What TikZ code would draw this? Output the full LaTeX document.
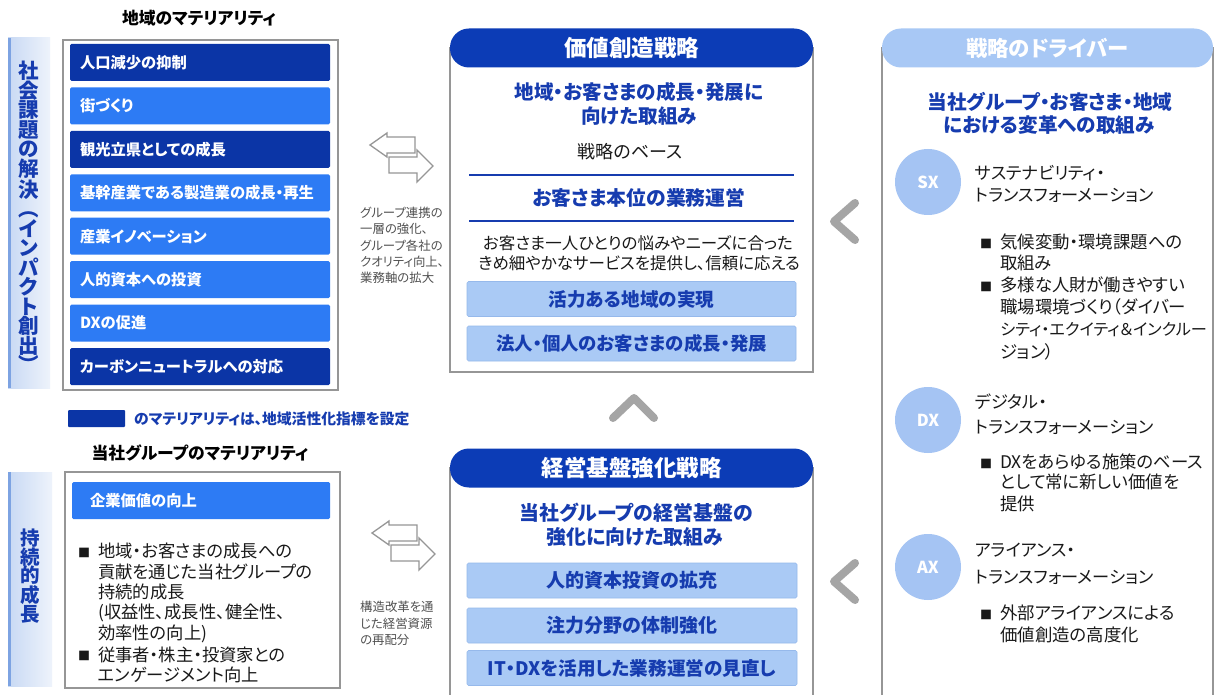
\documentclass[tikz,border=0pt]{standalone}
\usepackage{fontspec}
\setmainfont{Noto Sans CJK JP}[RawFeature=+palt]
\newfontfamily\jpv{Noto Sans CJK JP}
\definecolor{dkblue}{RGB}{11,53,166}
\definecolor{brblue}{RGB}{45,123,244}
\definecolor{txblue}{RGB}{22,60,175}
\definecolor{hdblue}{RGB}{12,60,182}
\definecolor{ltbar}{RGB}{170,202,245}
\definecolor{ltbarb}{RGB}{150,185,235}
\definecolor{circ}{RGB}{165,196,243}
\definecolor{drvhd}{RGB}{168,200,245}
\definecolor{framec}{RGB}{150,150,150}
\definecolor{chevc}{RGB}{165,165,165}
\definecolor{vbarL}{RGB}{200,217,244}
\definecolor{vbarR}{RGB}{238,243,251}
\definecolor{vbarline}{RGB}{125,163,226}
\definecolor{txt}{RGB}{25,25,25}
\definecolor{capc}{RGB}{80,80,80}
\newcommand\fsz[1]{\fontsize{#1}{#1}\selectfont}
\newcommand\mybul{\makebox[20pt][l]{\raisebox{0.5pt}{\fsz{12}■}}}
\newcommand\myind{\hspace*{20pt}}
\tikzset{
  every node/.style={text=txt, inner sep=0pt},
  title/.style={font=\bfseries\fsz{16.8}, text=black},
  framebox/.style={draw=framec, line width=1.2pt, fill=white},
  matdk/.style={fill=dkblue, text=white, font=\bfseries\fsz{15.3}, minimum height=37pt, text width=240pt, inner xsep=10pt, align=left, rounded corners=1.5pt},
  matbr/.style={matdk, fill=brblue},
  vbar/.style={left color=vbarL, right color=vbarR, minimum width=42pt},
  vtext/.style={font={\jpv\bfseries\fontsize{20.5}{19.5}\selectfont}, align=center, text=txblue},
  pill/.style={fill=hdblue, text=white, font=\bfseries\fsz{22.5}, minimum width=363pt, minimum height=39pt, rounded corners=19pt},
  bluehead/.style={font=\bfseries\fsz{19.6}, text=txblue},
  ltbox/.style={fill=ltbar, draw=ltbarb, line width=0.6pt, text=txblue, font=\bfseries\fsz{18.4}, minimum width=329pt, minimum height=35pt, rounded corners=1.5pt},
  body/.style={font=\fsz{16.5}, text=txt},
  capt/.style={font=\fsz{12.4}, text=capc, anchor=west},
  bline/.style={font=\fsz{17.3}, text=txt, anchor=west},
  rline/.style={font=\fsz{17.2}, text=txt, anchor=west},
  rbul/.style={font=\fsz{17.4}, text=txt, anchor=west},
  circn/.style={circle, fill=circ, minimum size=66pt, text=white, font=\bfseries\fsz{16.5}},
  chev/.style={draw=chevc, line width=8pt, line cap=round, line join=round},
  arrowline/.style={draw=framec, fill=white, line width=1.3pt, line join=miter},
  dblarrow/.pic={
    \path[arrowline] (0,0) -- (17,-12) -- (17,-8) -- (45,-8) -- (45,8) -- (17,8) -- (17,12) -- cycle;
    \path[arrowline] (19,12) -- (47,12) -- (47,5) -- (63,21) -- (47,37) -- (47,28) -- (19,28) -- cycle;
  }
}
\begin{document}
\begin{tikzpicture}[x=1pt,y=-1pt]
\useasboundingbox (0,0) rectangle (1216,695);
\fill[white] (0,0) rectangle (1216,695);

% ---------- left top ----------
\node[title] (t1) at (199,18) {地域のマテリアリティ};
\node[vbar, minimum height=350pt] (vb1) at (29,213) {};
\draw[vbarline, line width=3pt] ([xshift=1.5pt]vb1.north west) -- ([xshift=1.5pt]vb1.south west);
\node[vtext] (vt1) at (29,217) {社\\会\\課\\題\\の\\解\\決\\︵\\イ\\ン\\パ\\ク\\ト\\創\\出\\︶};
\node[framebox, minimum width=275pt, minimum height=350pt] (f1) at (200.5,215) {};
\foreach \t/\s [count=\i] in {人口減少の抑制/matdk, 街づくり/matbr, 観光立県としての成長/matdk, 基幹産業である製造業の成長・再生/matbr, 産業イノベーション/matbr, 人的資本への投資/matbr, DXの促進/matbr, カーボンニュートラルへの対応/matdk}
  \node[\s] (m\i) at (200,{62.5+(\i-1)*43.43}) {\t};
\node[fill=dkblue, minimum width=57pt, minimum height=17pt, rounded corners=1pt] (lg) at (96.5,418.5) {};
\node[anchor=west, font=\bfseries\fsz{14.8}, text=txblue] (lgt) at (134,419) {のマテリアリティは、地域活性化指標を設定};

% ---------- left bottom ----------
\node[title] (t2) at (200,453) {当社グループのマテリアリティ};
\node[vbar, minimum width=44pt, minimum height=214pt] (vb2) at (30,579) {};
\draw[vbarline, line width=3pt] ([xshift=1.5pt]vb2.north west) -- ([xshift=1.5pt]vb2.south west);
\node[vtext, font={\jpv\bfseries\fontsize{19.5}{18.8}\selectfont}] (vt2) at (30,576) {持\\続\\的\\成\\長};
\node[framebox, minimum width=275pt, minimum height=216pt] (f2) at (202.5,580) {};
\node[matbr, text width=222pt, inner xsep=18pt, minimum height=37pt] (kv) at (201,500.5) {企業価値の向上};
\foreach \t [count=\i] in {{\mybul 地域・お客さまの成長への},{\myind 貢献を通じた当社グループの},{\myind 持続的成長},{\myind (収益性、成長性、健全性、},{\myind 効率性の向上)},{\mybul 従事者・株主・投資家との},{\myind エンゲージメント向上}}
  \node[bline] (lb\i) at (78,{551+(\i-1)*20.7}) {\t};

% ---------- double arrows and captions ----------
\pic at (370,145) {dblarrow};
\foreach \t [count=\i] in {グループ連携の,一層の強化、,グループ各社の,クオリティ向上、,業務軸の拡大}
  \node[capt] (ca\i) at (360,{213+(\i-1)*16.3}) {\t};
\pic at (372,533) {dblarrow};
\foreach \t [count=\i] in {構造改革を通,じた経営資源,の再配分}
  \node[capt] (cb\i) at (360,{607+(\i-1)*16.3}) {\t};

% ---------- middle top ----------
\draw[framec, line width=1.2pt] (450,48) rectangle (813,372);
\node[pill] (vc) at (631.5,48) {価値創造戦略};
\node[bluehead] (vc1) at (639,92) {地域・お客さまの成長・発展に};
\node[bluehead] (vc2) at (639,116) {向けた取組み};
\node[body, font=\fsz{18}] (vc3) at (630,152) {戦略のベース};
\coordinate (l1a) at (469,175); \coordinate (l1b) at (794,175);
\draw[txblue, line width=1.2pt] (l1a) -- (l1b);
\node[bluehead, font=\bfseries\fsz{19.8}] (vc4) at (639,198) {お客さま本位の業務運営};
\coordinate (l2a) at (469,221); \coordinate (l2b) at (794,221);
\draw[txblue, line width=1.2pt] (l2a) -- (l2b);
\node[body] (vc5) at (638,243) {お客さま一人ひとりの悩みやニーズに合った};
\node[body] (vc6) at (639,263) {きめ細やかなサービスを提供し、信頼に応える};
\node[ltbox, font=\bfseries\fsz{18.6}] (vb1a) at (631.5,299) {活力ある地域の実現};
\node[ltbox] (vb1b) at (631.5,343.5) {法人・個人のお客さまの成長・発展};

% up chevron
\draw[chev] (613,418) -- (634,398) -- (654,418);

% ---------- middle bottom ----------
\draw[framec, line width=1.2pt] (450,700) -- (450,468) -- (813,468) -- (813,700);
\node[pill] (mb) at (631.5,468) {経営基盤強化戦略};
\node[bluehead, font=\bfseries\fsz{19.9}] (mb1) at (636,513) {当社グループの経営基盤の};
\node[bluehead, font=\bfseries\fsz{19.9}] (mb2) at (635,537) {強化に向けた取組み};
\node[ltbox, minimum width=330pt, font=\bfseries\fsz{19}] (mbb1) at (632,580.5) {人的資本投資の拡充};
\node[ltbox, minimum width=330pt, font=\bfseries\fsz{19}] (mbb2) at (632,625.5) {注力分野の体制強化};
\node[ltbox, minimum width=330pt, font=\bfseries\fsz{18.6}] (mbb3) at (632,668) {IT・DXを活用した業務運営の見直し};

% left chevrons
\draw[chev] (855,203) -- (834,221.5) -- (855,240);
\draw[chev] (855,563) -- (834,581.5) -- (855,600);

% ---------- right ----------
\draw[framec, line width=1.2pt] (882,700) -- (882,48) -- (1213,48) -- (1213,700);
\node[pill, fill=drvhd, minimum width=331pt, font=\bfseries\fsz{21.4}] (dr) at (1047.5,48) {戦略のドライバー};
\node[bluehead] (dr1) at (1050,102) {当社グループ・お客さま・地域};
\node[bluehead] (dr2) at (1049,125) {における変革への取組み};

\node[circn] (sx) at (928,182) {SX};
\node[rline] (sx1) at (975,173) {サステナビリティ・};
\node[rline] (sx2) at (975,195) {トランスフォーメーション};
\node[rbul] (sxb1) at (980,242) {\mybul 気候変動・環境課題への};
\node[rbul] (sxb2) at (980,263) {\myind 取組み};
\node[rbul] (sxb3) at (980,285) {\mybul 多様な人財が働きやすい};
\node[rbul] (sxb4) at (980,307) {\myind 職場環境づくり（ダイバー};
\node[rbul, font=\fsz{16.2}] (sxb5) at (980,330) {\myind シティ・エクイティ＆インクルー};
\node[rbul] (sxb6) at (980,352) {\myind ジョン）};

\node[circn] (dx) at (928,420) {DX};
\node[rline] (dx1) at (975,402) {デジタル・};
\node[rline] (dx2) at (975,427) {トランスフォーメーション};
\node[rbul] (dxb1) at (980,462) {\mybul DXをあらゆる施策のベース};
\node[rbul] (dxb2) at (980,482) {\myind として常に新しい価値を};
\node[rbul] (dxb3) at (980,504) {\myind 提供};

\node[circn] (ax) at (928,567) {AX};
\node[rline] (ax1) at (975,550) {アライアンス・};
\node[rline] (ax2) at (975,577) {トランスフォーメーション};
\node[rbul] (axb1) at (980,613) {\mybul 外部アライアンスによる};
\node[rbul] (axb2) at (980,635) {\myind 価値創造の高度化};
\end{tikzpicture}
\end{document}
